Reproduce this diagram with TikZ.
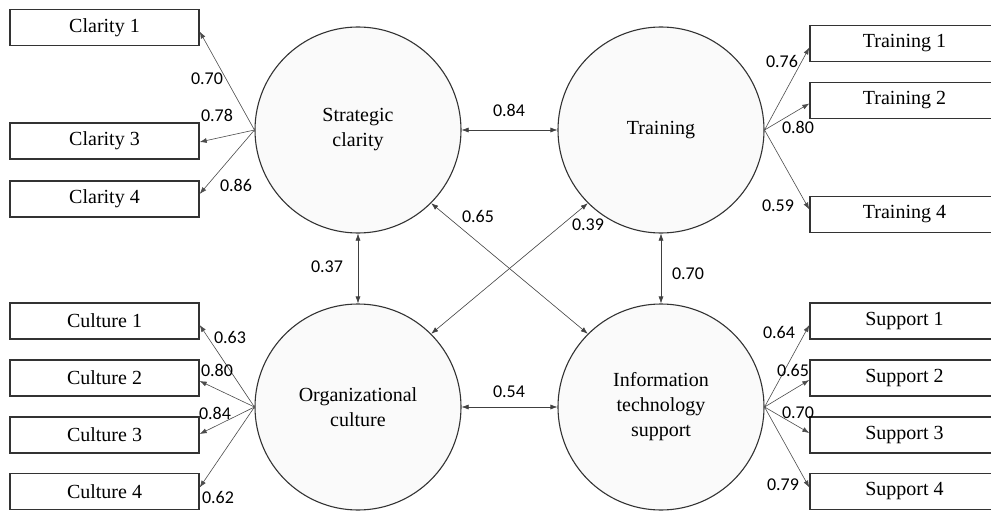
\documentclass[tikz,border=0pt]{standalone}
\usepackage{fontspec}
\setmainfont{Liberation Serif}
\newfontfamily\numfont{Carlito}
\usetikzlibrary{arrows.meta,calc}
\tikzset{
  latent/.style={circle, draw=black!80, line width=1.1pt, fill=black!2, minimum size=206pt, inner sep=0pt, align=center, font=\fontsize{20}{25}\selectfont},
  obs/.style={rectangle, draw=black!80, line width=1.4pt, fill=white, minimum width=189pt, minimum height=36pt, inner sep=0pt, font=\fontsize{20}{24}\selectfont},
  con/.style={draw=black!70, line width=0.6pt, -{Latex[length=7pt,width=5pt]}},
  cov/.style={draw=black!75, line width=0.6pt, {Latex[length=7pt,width=5pt]}-{Latex[length=7pt,width=5pt]}},
  num/.style={inner sep=0pt, font=\numfont\fontsize{18}{21}\selectfont}
}
\begin{document}
\begin{tikzpicture}[x=1pt,y=-1pt]
\useasboundingbox (0,0) rectangle (991,511);
\clip (0,0) rectangle (991,511);
\fill[white] (0,0) rectangle (991,511);
% latent variables
\node[latent] (sc) at (358,130) {Strategic\\clarity};
\node[latent] (tr) at (661,130) {Training};
\node[latent] (oc) at (358,407) {Organizational\\culture};
\node[latent] (it) at (661,407) {Information\\technology\\support};
% observed variables left
\node[obs] (c1) at (104.5,27.5) {Clarity 1};
\node[obs] (c3) at (104.5,141) {Clarity 3};
\node[obs] (c4) at (104.5,199) {Clarity 4};
\node[obs] (u1) at (104.5,321) {Culture 1};
\node[obs] (u2) at (104.5,378) {Culture 2};
\node[obs] (u3) at (104.5,435) {Culture 3};
\node[obs] (u4) at (104.5,491.5) {Culture 4};
% observed variables right
\node[obs] (t1) at (904.5,43.5) {Training 1};
\node[obs] (t2) at (904.5,100.5) {Training 2};
\node[obs] (t4) at (904.5,214.5) {Training 4};
\node[obs] (s1) at (904.5,321) {Support 1};
\node[obs] (s2) at (904.5,378) {Support 2};
\node[obs] (s3) at (904.5,435) {Support 3};
\node[obs] (s4) at (904.5,491.5) {Support 4};
% loadings
\draw[con] (sc.west) -- ($(c1.east)+(0,4)$);
\draw[con] (sc.west) -- ($(c3.east)+(0,1)$);
\draw[con] (sc.west) -- ($(c4.east)+(0,-5)$);
\draw[con] (tr.east) -- ($(t1.west)+(0,4)$);
\draw[con] (tr.east) -- ($(t2.west)+(0,3)$);
\draw[con] (tr.east) -- ($(t4.west)+(0,-5)$);
\draw[con] (oc.west) -- ($(u1.east)+(0,4)$);
\draw[con] (oc.west) -- ($(u2.east)+(0,3)$);
\draw[con] (oc.west) -- ($(u3.east)+(0,-1)$);
\draw[con] (oc.west) -- ($(u4.east)+(0,-4)$);
\draw[con] (it.east) -- ($(s1.west)+(0,4)$);
\draw[con] (it.east) -- ($(s2.west)+(0,2)$);
\draw[con] (it.east) -- ($(s3.west)+(0,-2)$);
\draw[con] (it.east) -- ($(s4.west)+(0,-4)$);
% covariances
\draw[cov] (sc.east) -- (tr.west);
\draw[cov] (oc.east) -- (it.west);
\draw[cov] (sc.south) -- (oc.north);
\draw[cov] (tr.south) -- (it.north);
\draw[cov] (sc.-45) -- (it.135);
\draw[cov] (tr.-135) -- (oc.45);
% loading labels
\node[num] (l1) at (207,79) {0.70};
\node[num] (l2) at (217,115) {0.78};
\node[num] (l3) at (236,185) {0.86};
\node[num] (l4) at (782,61) {0.76};
\node[num] (l5) at (798,127) {0.80};
\node[num] (l6) at (778,206) {0.59};
\node[num] (l7) at (230,337) {0.63};
\node[num] (l8) at (217,370) {0.80};
\node[num] (l9) at (215,413) {0.84};
\node[num] (l10) at (218,497) {0.62};
\node[num] (l11) at (779,332) {0.64};
\node[num] (l12) at (793,370) {0.65};
\node[num] (l13) at (798,413) {0.70};
\node[num] (l14) at (783,485) {0.79};
% covariance labels
\node[num] (k1) at (509,110) {0.84};
\node[num] (k2) at (509,392) {0.54};
\node[num] (k3) at (327,267) {0.37};
\node[num] (k4) at (688,274) {0.70};
\node[num] (k5) at (478,216) {0.65};
\node[num] (k6) at (588,225) {0.39};
\end{tikzpicture}
\end{document}
